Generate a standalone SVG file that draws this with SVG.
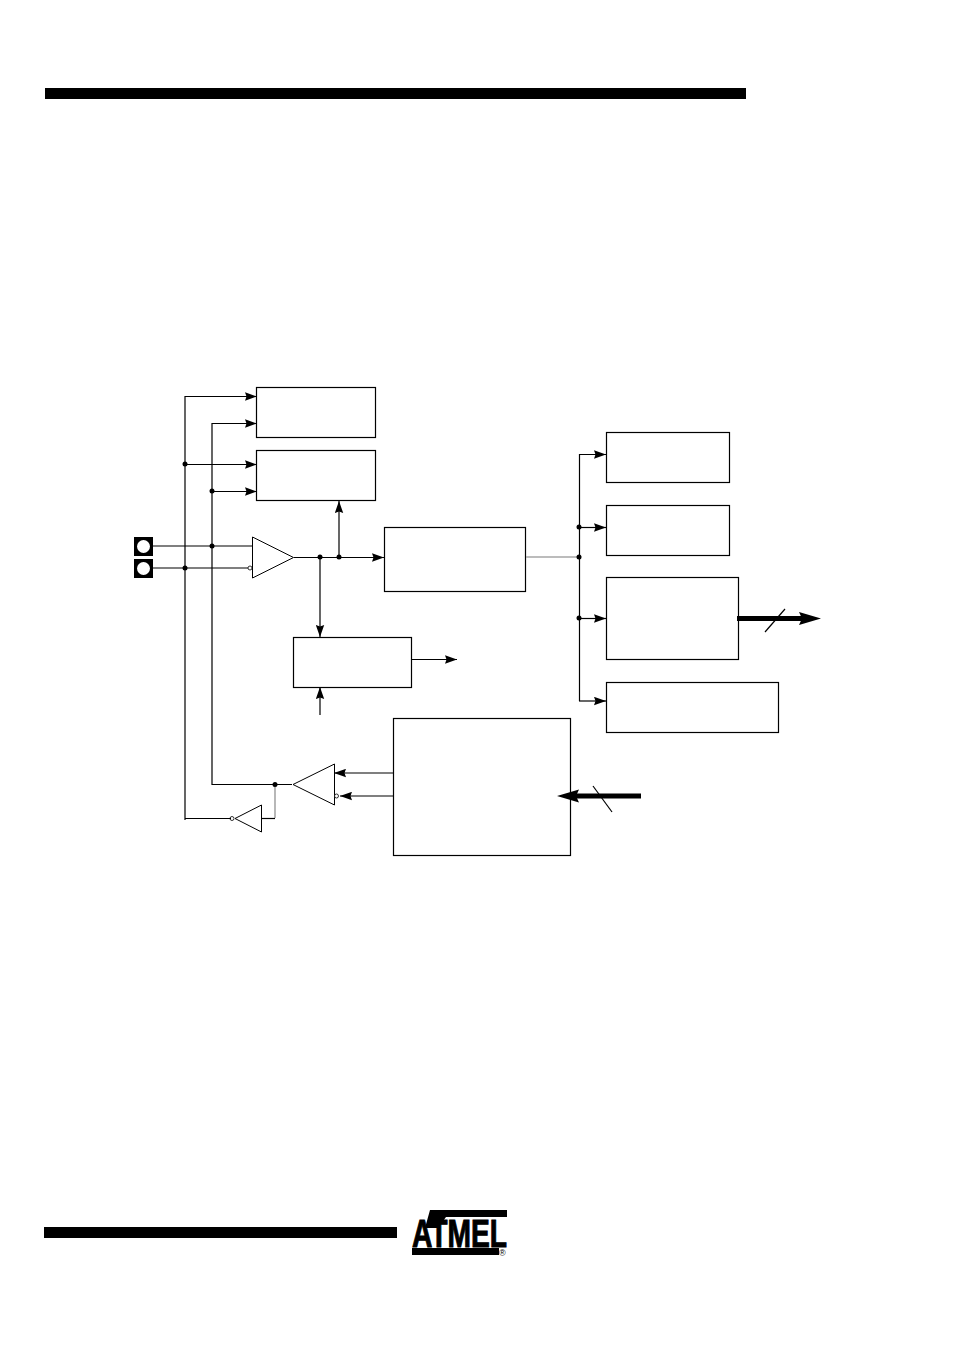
<svg xmlns="http://www.w3.org/2000/svg" width="954" height="1351" viewBox="0 0 954 1351">
<style>
.box{fill:#fff;stroke:#000;stroke-width:1.2}
.w{fill:none;stroke:#000;stroke-width:1.2}
.g{fill:none;stroke:#a6a6a6;stroke-width:1.6}
.d{fill:#000}
.b{fill:none;stroke:#000;stroke-width:5}
.i{fill:#fff;stroke:#000;stroke-width:.8}
.t{fill:#fff;stroke:#000;stroke-width:1}
</style>
<defs>
<marker id="a" markerUnits="userSpaceOnUse" markerWidth="13" markerHeight="9" refX="12" refY="4.500" orient="auto"><path d="M0 0.300L12 4.500L0 8.700L1.500 4.500Z" fill="#000"/></marker>
<marker id="A" markerUnits="userSpaceOnUse" markerWidth="22" markerHeight="14" refX="3" refY="7" orient="auto"><path d="M0 0.500L22 7L0 13.500L3 7Z" fill="#000"/></marker>
</defs>
<rect id="header-bar" x="45" y="88" width="701" height="11" fill="#000"/>
<rect id="footer-bar" x="44" y="1227" width="353" height="11" fill="#000"/>
<g id="logo">
<polygon points="430,1210 507,1210 507,1217 446,1217 438,1228 425,1228" fill="#000"/>
<rect x="412" y="1248" width="87" height="7" fill="#000"/>
<text x="412" y="1247" font-family="'Liberation Sans',sans-serif" font-weight="700" font-size="38" textLength="95" lengthAdjust="spacingAndGlyphs" stroke="#000" stroke-width="1">ATMEL</text>
<text x="499" y="1256" font-family="'Liberation Sans',sans-serif" font-size="9">®</text>
</g>
<g id="pin-1"><rect x="134" y="537" width="19" height="19" fill="#000"/><circle cx="143.500" cy="546.500" r="6.500" fill="#fff"/></g>
<g id="pin-2"><rect x="134" y="559" width="19" height="19" fill="#000"/><circle cx="143.500" cy="568.500" r="6.500" fill="#fff"/></g>
<g id="block-1"><rect class="box" x="256.500" y="387.500" width="119" height="50"/></g>
<g id="block-2"><rect class="box" x="256.500" y="450.500" width="119" height="50"/></g>
<g id="block-3"><rect class="box" x="384.500" y="527.500" width="141" height="64"/></g>
<g id="block-4"><rect class="box" x="293.500" y="637.500" width="118" height="50"/></g>
<g id="block-5"><rect class="box" x="393.500" y="718.500" width="177" height="137"/></g>
<g id="block-6"><rect class="box" x="606.500" y="432.500" width="123" height="50"/></g>
<g id="block-7"><rect class="box" x="606.500" y="505.500" width="123" height="50"/></g>
<g id="block-8"><rect class="box" x="606.500" y="577.500" width="132" height="82"/></g>
<g id="block-9"><rect class="box" x="606.500" y="682.500" width="172" height="50"/></g>
<g id="amp-in"><polygon class="t" points="252.500,537 293.500,557.500 252.500,578"/><circle class="i" cx="250" cy="568" r="2"/></g>
<g id="amp-out"><polygon class="t" points="334.500,764 293,784.500 334.500,805"/><circle class="i" cx="336.500" cy="796" r="2"/></g>
<g id="inverter"><polygon class="t" points="261.500,805 235,818.500 261.500,832"/><circle class="i" cx="232" cy="818.500" r="2"/></g>
<g id="connectors">
<path class="w" d="M185 820V396.500H257" marker-end="url(#a)"/>
<path class="w" d="M212 785V423.500H257" marker-end="url(#a)"/>
<path class="w" d="M185 464.500H257" marker-end="url(#a)"/>
<path class="w" d="M212 491.500H257" marker-end="url(#a)"/>
<path class="w" d="M153 546H252"/>
<path class="w" d="M153 568H248"/>
<path class="w" d="M294 557.500H384" marker-end="url(#a)"/>
<path class="w" d="M339 557V501" marker-end="url(#a)"/>
<path class="w" d="M320 557V637" marker-end="url(#a)"/>
<path class="w" d="M412 659.500H457" marker-end="url(#a)"/>
<path class="w" d="M320 715V687" marker-end="url(#a)"/>
<path class="g" d="M526 557H579"/>
<path class="w" d="M579.500 701V454.500H606" marker-end="url(#a)"/>
<path class="w" d="M579 527.500H606" marker-end="url(#a)"/>
<path class="w" d="M579 618.500H606" marker-end="url(#a)"/>
<path class="w" d="M579 701H606" marker-end="url(#a)"/>
<path class="b" d="M737 618.500H802" marker-end="url(#A)"/>
<path class="w" d="M765 632L785 609"/>
<path class="b" d="M641 796H576" marker-end="url(#A)"/>
<path class="w" d="M593 786L612 812"/>
<path class="w" d="M212 784.500H292"/>
<path class="w" d="M393 773H334" marker-end="url(#a)"/>
<path class="w" d="M393 796H340" marker-end="url(#a)"/>
<path class="g" d="M275 785V818"/>
<path class="w" d="M262 818.500H275"/>
<path class="w" d="M185 818.500H231"/>
<g class="d">
<circle cx="185" cy="464" r="2.500"/><circle cx="212" cy="491" r="2.500"/><circle cx="212" cy="546" r="2.500"/><circle cx="185" cy="568" r="2.500"/><circle cx="320" cy="557" r="2.500"/><circle cx="339" cy="557" r="2.500"/><circle cx="579" cy="527" r="2.500"/><circle cx="579" cy="557" r="2.500"/><circle cx="579" cy="618" r="2.500"/><circle cx="275" cy="784.500" r="2.500"/>
</g>
</g>
</svg>
